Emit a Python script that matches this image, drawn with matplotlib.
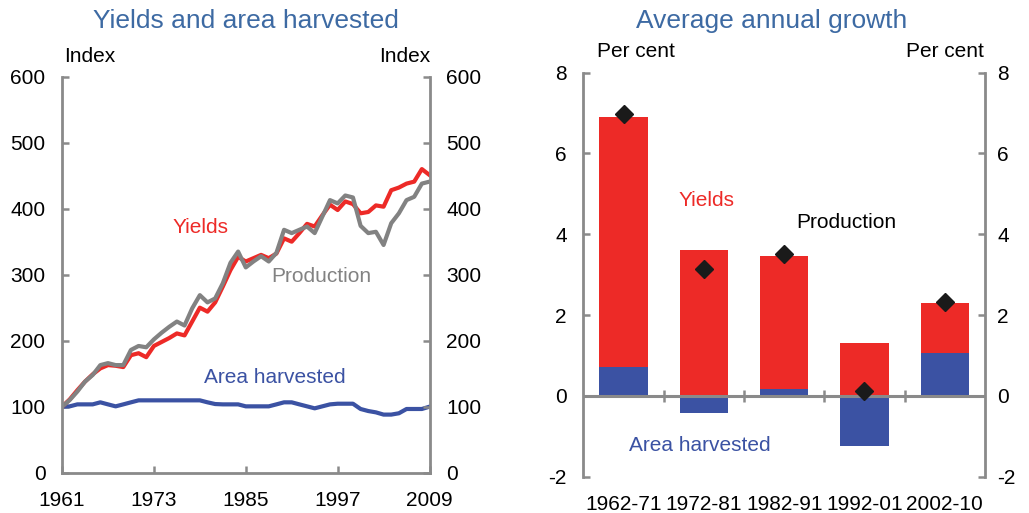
import matplotlib
matplotlib.use("Agg")
import matplotlib.pyplot as plt
import numpy as np

plt.rcParams['font.family'] = ['Liberation Sans', 'DejaVu Sans']
plt.rcParams['axes.unicode_minus'] = False

# Left panel: index, 1961 = 100
years = np.arange(1961, 2010)
yields = [100, 111, 125, 138, 149, 158, 163, 162, 160, 178,
          181, 175, 192, 198, 204, 211, 208, 229, 250, 244,
          258, 282, 307, 327, 320, 325, 330, 325, 332, 355,
          350, 363, 377, 373, 390, 406, 398, 411, 407, 393,
          395, 405, 403, 428, 432, 438, 441, 460, 451]
production = [100, 110, 123, 138, 148, 163, 166, 163, 163, 186,
              192, 190, 202, 212, 221, 229, 223, 249, 269, 258,
              264, 287, 318, 335, 311, 320, 328, 320, 333, 368,
              363, 368, 373, 363, 388, 413, 408, 420, 417, 374,
              363, 365, 345, 378, 393, 413, 418, 438, 441]
area = [100, 100.5, 103.5, 103.5, 103.5, 106.6, 103.5, 100.5, 103.5, 106.6,
        109.6, 109.6, 109.6, 109.6, 109.6, 109.6, 109.6, 109.6, 109.6, 106.6,
        104, 103.5, 103.5, 103.5, 100.5, 100.5, 100.5, 100.5, 103.5, 106.6,
        106.6, 103.5, 100.5, 97.5, 100.5, 103.5, 104.5, 104.5, 104.5, 96.5,
        93.4, 91.4, 88, 88, 90, 96.5, 96.5, 96.5, 100]
year_ticks = [1961, 1973, 1985, 1997, 2009]
index_ticks = [0, 100, 200, 300, 400, 500, 600]

# Right panel: average annual growth, per cent
periods = ['1962-71', '1972-81', '1982-91', '1992-01', '2002-10']
growth_area = [0.71, -0.43, 0.17, -1.23, 1.06]
growth_yields = [6.19, 3.62, 3.30, 1.31, 1.23]
growth_production = [6.97, 3.15, 3.51, 0.13, 2.32]
pct_ticks = [-2, 0, 2, 4, 6, 8]

RED = '#ED2A27'
BLUE = '#3B52A3'
GREY = '#828282'
AXGREY = '#8A8A8A'
TITLE = '#3D6AA3'
FS = 15

fig = plt.figure(figsize=(10.29, 5.13), dpi=100)


def style_axes(ax, pad):
    for s in ['top', 'bottom', 'left', 'right']:
        ax.spines[s].set_visible(False)
    ax.tick_params(axis='y', direction='in', length=5, width=1.8,
                   color=AXGREY, labelsize=FS, pad=pad)


# ---- left panel
ax1 = fig.add_axes([0.0603, 0.0786, 0.3571, 0.7719])
ax1.plot(years, area, color=BLUE, lw=3, solid_joinstyle='round')
ax1.plot(years, yields, color=RED, lw=3, solid_joinstyle='round')
ax1.plot(years, production, color=GREY, lw=3, solid_joinstyle='round')
ax1.set_xlim(1961, 2009)
ax1.set_ylim(0, 600)
ax1.set_yticks(index_ticks)
ax1.set_xticks(year_ticks)
style_axes(ax1, 12)
ax1.spines['left'].set_visible(True)
ax1.spines['bottom'].set_visible(True)
for s in ['left', 'bottom']:
    ax1.spines[s].set_color(AXGREY)
    ax1.spines[s].set_linewidth(2)
ax1.tick_params(axis='x', direction='in', length=5, width=1.8,
                color=AXGREY, labelsize=FS, pad=13)
ax1r = ax1.twinx()
ax1r.set_ylim(0, 600)
ax1r.set_yticks(index_ticks)
style_axes(ax1r, 12)
ax1r.spines['right'].set_visible(True)
ax1r.spines['right'].set_color(AXGREY)
ax1r.spines['right'].set_linewidth(2)

ax1.text(1975.4, 363, 'Yields', color=RED, fontsize=FS)
ax1.text(1988.3, 289, 'Production', color=GREY, fontsize=FS)
ax1.text(1979.6, 136, 'Area harvested', color=BLUE, fontsize=FS)
fig.text(0.062, 0.889, 'Index', fontsize=FS, va='center', ha='left')
fig.text(0.418, 0.889, 'Index', fontsize=FS, va='center', ha='right')
fig.text(0.239, 0.945, 'Yields and area harvested', color=TITLE,
         fontsize=19, ha='center', va='baseline')

# ---- right panel
ax2 = fig.add_axes([0.5669, 0.0708, 0.3903, 0.7875])
x = np.arange(len(periods))
ax2.bar(x, growth_area, width=0.6, color=BLUE, zorder=2)
ax2.bar(x, growth_yields, width=0.6, bottom=np.maximum(growth_area, 0),
        color=RED, zorder=2)
ax2.axhline(0, color=AXGREY, lw=2.2, zorder=3)
ax2.vlines(x[:-1] + 0.5, -0.15, 0.15, color=AXGREY, lw=1.8, zorder=3)
ax2.plot(x, growth_production, 'D', color='#1A1A1A', ms=9, zorder=4)
ax2.set_xlim(-0.5, len(periods) - 0.5)
ax2.set_ylim(-2, 8)
ax2.set_yticks(pct_ticks)
ax2.set_xticks(x)
ax2.set_xticklabels(periods)
style_axes(ax2, 12)
ax2.spines['left'].set_visible(True)
ax2.spines['left'].set_color(AXGREY)
ax2.spines['left'].set_linewidth(2)
ax2.tick_params(axis='x', length=0, labelsize=FS, pad=13)
ax2r = ax2.twinx()
ax2r.set_ylim(-2, 8)
ax2r.set_yticks(pct_ticks)
style_axes(ax2r, 9)
ax2r.spines['right'].set_visible(True)
ax2r.spines['right'].set_color(AXGREY)
ax2r.spines['right'].set_linewidth(2)

ax2.text(0.69, 4.7, 'Yields', color=RED, fontsize=FS)
ax2.text(2.15, 4.16, 'Production', color='black', fontsize=FS)
ax2.text(0.07, -1.375, 'Area harvested', color=BLUE, fontsize=FS)
fig.text(0.580, 0.899, 'Per cent', fontsize=FS, va='center', ha='left')
fig.text(0.956, 0.899, 'Per cent', fontsize=FS, va='center', ha='right')
fig.text(0.750, 0.946, 'Average annual growth', color=TITLE,
         fontsize=19, ha='center', va='baseline')

fig.savefig('out.png', dpi=100)
